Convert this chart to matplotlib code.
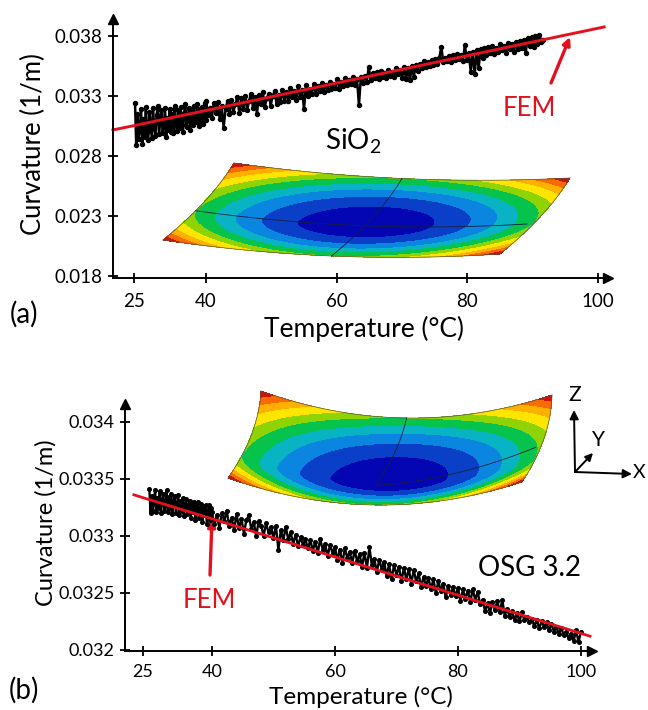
import numpy as np
import matplotlib
matplotlib.use("Agg")
import matplotlib.pyplot as plt
from matplotlib.colors import ListedColormap, BoundaryNorm

plt.rcParams['font.family'] = ['Lato', 'DejaVu Sans']
plt.rcParams['mathtext.default'] = 'regular'
plt.rcParams['mathtext.fontset'] = 'custom'
plt.rcParams['mathtext.rm'] = 'Lato'

W, H = 648, 710
RED = '#e3101e'

# ---------- data (curvature in 1e-3 1/m) ----------
temp_a = [25.2,25.45,25.7,25.95,26.2,26.45,26.7,26.95,27.2,27.45,
          27.7,27.95,28.2,28.45,28.7,28.95,29.2,29.45,29.7,29.95,
          30.2,30.45,30.7,30.95,31.2,31.45,31.7,31.95,32.2,32.45,
          32.7,32.95,33.2,33.45,33.7,33.95,34.2,34.45,34.7,34.95,
          35.2,35.45,35.7,35.95,36.2,36.45,36.7,36.95,37.2,37.45,
          37.7,37.95,38.2,38.45,38.7,38.95,39.2,39.45,39.7,39.95,
          40.0,40.3,40.6,40.9,41.2,41.5,41.8,42.1,42.4,42.7,43.0,43.3,43.6,43.9,44.2,44.5,44.8,45.1,45.4,45.7,
          46.0,46.3,46.6,46.9,47.2,47.5,47.8,48.1,48.4,48.7,49.0,49.3,49.6,49.9,50.2,50.5,50.8,51.1,51.4,51.7,
          52.0,52.3,52.6,52.9,53.2,53.5,53.8,54.1,54.4,54.7,55.0,55.3,55.6,55.9,56.2,56.5,56.8,57.1,57.4,57.7,
          58.0,58.3,58.6,58.9,59.2,59.5,59.8,60.1,60.4,60.7,61.0,61.3,61.6,61.9,62.2,62.5,62.8,63.1,63.4,63.7,
          64.0,64.3,64.6,64.9,65.2,65.5,65.8,66.1,66.4,66.7,67.0,67.3,67.6,67.9,68.2,68.5,68.8,69.1,69.4,69.7,
          70.0,70.3,70.6,70.9,71.2,71.5,71.8,72.1,72.4,72.7,73.0,73.3,73.6,73.9,74.2,74.5,74.8,75.1,75.4,75.7,
          76.0,76.3,76.6,76.9,77.2,77.5,77.8,78.1,78.4,78.7,79.0,79.3,79.6,79.9,80.2,80.5,80.8,81.1,81.4,81.7,
          82.0,82.3,82.6,82.9,83.2,83.5,83.8,84.1,84.4,84.7,85.0,85.3,85.6,85.9,86.2,86.5,86.8,87.1,87.4,87.7,
          88.0,88.3,88.6,88.9,89.2,89.5,89.8,90.1,90.4,90.7,91.0,91.3,91.6]
curv_a = [32.4,28.9,31.5,29.4,30.2,31.9,29.0,31.1,29.6,32.1,30.0,29.3,31.7,30.6,29.5,32.0,30.3,29.7,31.4,32.2,
          29.8,30.9,31.8,29.9,30.4,32.0,29.6,31.2,30.2,31.9,30.0,31.5,29.9,32.2,30.7,30.1,31.8,30.3,32.1,30.6,
          30.0,31.6,32.3,30.4,31.0,32.0,30.2,31.7,30.6,32.2,30.8,31.3,32.3,30.5,31.9,30.9,32.1,30.7,32.4,31.0,
          32.6,31.4,32.0,31.2,32.4,31.6,32.5,31.1,32.2,30.35,31.9,32.6,31.5,32.7,31.7,32.3,32.9,31.6,32.8,31.9,
          33.0,31.8,32.6,33.2,32.0,32.9,31.5,33.1,32.3,33.3,32.1,32.8,33.2,32.2,33.0,33.4,32.3,33.1,32.5,33.5,
          32.6,33.3,32.6,33.7,32.9,33.4,32.7,33.8,32.9,33.5,31.9,33.9,33.0,33.6,33.2,34.0,33.2,33.8,33.4,34.1,
          33.3,33.9,33.5,34.2,33.6,34.0,33.7,34.4,33.6,34.2,33.8,34.5,33.9,34.3,34.0,34.6,33.9,34.4,32.25,34.6,
          34.1,34.7,34.2,35.4,34.3,34.9,34.5,35.0,34.4,35.1,34.6,34.9,34.5,35.2,34.7,35.0,34.6,35.3,34.8,35.2,
          34.5,35.4,34.4,35.3,34.3,35.5,34.6,35.6,35.1,35.7,35.3,35.9,35.4,35.8,35.5,36.0,35.6,36.1,35.7,36.2,
          37.1,35.8,36.2,35.9,36.3,35.8,36.4,36.0,36.5,36.1,36.4,35.9,37.25,36.0,36.6,35.0,36.7,34.8,36.8,35.3,
          36.9,36.2,37.0,36.4,37.1,36.6,37.2,36.5,37.0,36.7,37.3,36.8,37.2,36.6,37.4,36.9,37.3,36.7,37.5,36.9,
          37.6,37.0,37.7,36.6,37.8,37.2,37.9,37.1,38.0,37.3,38.1,37.5,37.7]

temp_b = [26.4,26.65,26.9,27.15,27.4,27.65,27.9,28.15,28.4,28.65,
          28.9,29.15,29.4,29.65,29.9,30.15,30.4,30.65,30.9,31.15,
          31.4,31.65,31.9,32.15,32.4,32.65,32.9,33.15,33.4,33.65,
          33.9,34.15,34.4,34.65,34.9,35.15,35.4,35.65,35.9,36.15,
          36.4,36.65,36.9,37.15,37.4,37.65,37.9,38.15,38.4,38.65,
          38.9,39.15,39.4,39.65,39.9,
          40.0,40.4,40.8,41.2,41.6,42.0,42.4,42.8,43.2,43.6,
          44.0,44.4,44.8,45.2,45.6,46.0,46.4,46.8,47.2,47.6,
          48.0,48.4,48.8,49.2,49.6,50.0,50.4,50.8,51.2,51.6,
          52.0,52.4,52.8,53.2,53.6,54.0,54.4,54.8,55.2,55.6,
          56.0,56.4,56.8,57.2,57.6,58.0,58.4,58.8,59.2,59.6,
          60.0,60.4,60.8,61.2,61.6,62.0,62.4,62.8,63.2,63.6,
          64.0,64.4,64.8,65.2,65.6,66.0,66.4,66.8,67.2,67.6,
          68.0,68.4,68.8,69.2,69.6,70.0,70.4,70.8,71.2,71.6,
          72.0,72.4,72.8,73.2,73.6,74.0,74.4,74.8,75.2,75.6,
          76.0,76.4,76.8,77.2,77.6,78.0,78.4,78.8,79.2,79.6,
          80.0,80.4,80.8,81.2,81.6,82.0,82.4,82.8,83.2,83.6,
          84.0,84.4,84.8,85.2,85.6,86.0,86.4,86.8,87.2,87.6,
          88.0,88.4,88.8,89.2,89.6,90.0,90.4,90.8,91.2,91.6,
          92.0,92.4,92.8,93.2,93.6,94.0,94.4,94.8,95.2,95.6,
          96.0,96.4,96.8,97.2,97.6,98.0,98.4,98.8,99.2,99.6,
          100.0]
curv_b = [33.41,33.20,33.35,33.22,33.29,33.40,33.21,33.33,33.24,33.39,33.20,33.30,33.37,33.22,33.27,33.40,33.21,33.34,33.24,33.37,
          33.19,33.30,33.35,33.20,33.26,33.36,33.18,33.31,33.22,33.33,33.17,33.28,33.32,33.19,33.25,33.31,33.16,33.29,33.21,33.30,
          33.14,33.25,33.30,33.16,33.23,33.28,33.12,33.26,33.18,33.27,33.10,33.22,33.27,33.14,33.24,
          33.21,33.10,33.18,33.07,33.20,33.13,33.22,33.09,33.16,33.05,
          33.19,33.07,33.15,33.02,33.14,33.18,33.06,33.12,33.00,33.13,
          33.09,33.00,33.11,33.03,33.08,32.98,33.09,32.88,33.05,32.96,
          33.08,32.97,33.03,32.93,33.01,32.91,32.99,32.92,32.97,32.89,
          32.96,32.87,32.95,32.85,32.97,32.88,32.93,32.82,32.92,32.85,
          32.90,32.79,32.88,32.76,32.89,32.81,32.86,32.76,32.87,32.78,
          32.84,32.73,32.85,32.72,32.90,32.74,32.80,32.68,32.79,32.71,
          32.77,32.65,32.75,32.62,32.74,32.66,32.73,32.60,32.72,32.62,
          32.71,32.58,32.70,32.60,32.67,32.55,32.64,32.56,32.63,32.53,
          32.62,32.50,32.60,32.52,32.58,32.46,32.56,32.48,32.55,32.47,
          32.54,32.43,32.53,32.45,32.52,32.42,32.53,32.44,32.51,32.40,
          32.44,32.34,32.41,32.32,32.42,32.35,32.43,32.33,32.44,32.30,
          32.36,32.29,32.34,32.26,32.32,32.25,32.33,32.26,32.29,32.24,
          32.27,32.21,32.26,32.19,32.25,32.20,32.24,32.17,32.23,32.16,
          32.20,32.14,32.19,32.13,32.16,32.10,32.14,32.08,32.17,32.07,
          32.16]

fem_temp_a = [20.6, 25, 40, 100.9]
fem_curv_a = [30.17, 30.53, 31.79, 38.75]
fem_temp_b = [23.04, 25, 40, 101.46]
fem_curv_b = [33.36, 33.335, 33.15, 32.12]

xticks = [25, 40, 60, 80, 100]
yticks_a = [18, 23, 28, 33, 38]
ylabels_a = ['0.018', '0.023', '0.028', '0.033', '0.038']
yticks_b = [32.0, 32.5, 33.0, 33.5, 34.0]
ylabels_b = ['0.032', '0.0325', '0.033', '0.0335', '0.034']

band_levels = [0, .16, .37, .58, .78, 1.0, 1.2, 1.42, 1.62, 1.82, 2.5]
band_colors = ['#0406b4', '#0a3fc8', '#0a86e0', '#08b4c4', '#06c34e',
               '#8fd305', '#fde500', '#fdb000', '#f96a00', '#c8140a']

fig = plt.figure(figsize=(W / 100, H / 100), dpi=100)

def px_axes(left, right, top, bottom):
    ax = fig.add_axes([left / W, 1 - bottom / H, (right - left) / W, (bottom - top) / H])
    ax.patch.set_alpha(0)
    return ax

def make_scale(px_low, px_high):
    def fwd(t):
        t = np.asarray(t, dtype=float)
        return np.where(t < 40, (t - 40) * px_low, (t - 40) * px_high)
    def inv(p):
        p = np.asarray(p, dtype=float)
        return np.where(p < 0, p / px_low + 40, p / px_high + 40)
    return fwd, inv

def style(ax, ylabels, yticks, fs_tick, pad_y, pad_x):
    for s in ('top', 'right'):
        ax.spines[s].set_visible(False)
    for s in ('left', 'bottom'):
        ax.spines[s].set_linewidth(1.4)
    ax.set_xticks(xticks)
    ax.set_xticklabels([str(v) for v in xticks], fontsize=fs_tick)
    ax.set_yticks(yticks)
    ax.set_yticklabels(ylabels, fontsize=fs_tick)
    ax.tick_params(axis='x', direction='inout', length=7, width=1.3, pad=pad_x)
    ax.tick_params(axis='y', direction='inout', length=7, width=1.3, pad=pad_y)
    ax.minorticks_off()
    ax.plot(1, 0, '>k', ms=6.5, transform=ax.transAxes, clip_on=False)
    ax.plot(0, 1, '^k', ms=6.5, transform=ax.transAxes, clip_on=False)

# ---------- overlay in pixel coordinates for insets and annotations ----------
ov = fig.add_axes([0, 0, 1, 1])
ov.set_xlim(0, W)
ov.set_ylim(H, 0)
ov.axis('off')

def surface(corners, sag_top, sag_bottom, bulge, v0, lines):
    tl, tr, br, bl = [np.array(c, float) for c in corners]
    u, v = np.meshgrid(np.linspace(0, 1, 260), np.linspace(0, 1, 160))
    def mp(u, v):
        x = (1-u)*(1-v)*tl[0] + u*(1-v)*tr[0] + u*v*br[0] + (1-u)*v*bl[0]
        y = (1-u)*(1-v)*tl[1] + u*(1-v)*tr[1] + u*v*br[1] + (1-u)*v*bl[1]
        x = x + bulge * 4 * v * (1 - v)
        y = y + (sag_top * (1 - v) + sag_bottom * v) * 4 * u * (1 - u)
        return x, y
    X, Y = mp(u, v)
    dv = np.where(v < v0, (v - v0) / v0, (v - v0) / (1 - v0))
    F = ((u - .5) / .5) ** 2 + dv ** 2
    ov.contourf(X, Y, F, levels=band_levels, cmap=ListedColormap(band_colors),
                norm=BoundaryNorm(band_levels, len(band_colors)))
    t = np.linspace(0, 1, 80)
    for uu, vv in [(t, 0 * t), (t, 0 * t + 1), (0 * t, t), (0 * t + 1, t)]:
        ov.plot(*mp(uu, vv), color='#555544', lw=0.5)
    for (ua, va), (ub, vb) in lines:
        ov.plot(*mp(ua + (ub - ua) * t, va + (vb - va) * t), color='#14203a', lw=0.6)

surface([(234, 163), (570, 178), (500, 254), (163, 240)], 8, 9, 6, 0.6,
        [((0.5, 0), (0.5, 1)), ((0.0, .62), (0.98, .6))])
surface([(261, 391), (552, 395), (522, 482), (228, 478)], 25, 25, 7, 0.74,
        [((0.5, 0), (0.46, .78)), ((0.46, .78), (.98, .58))])

# ---------- panel (a) ----------
ax1 = px_axes(113, 608, 19, 278)
f, i = make_scale(72 / 15, 6.55)
ax1.set_xscale('function', functions=(f, i))
ax1.set_xlim(20.6, 96.3 + (608 - 574) / 6.55)
ax1.set_ylim(17.83, 17.83 + 259 / 12)
ax1.plot(temp_a, curv_a, '-o', color='k', lw=1.8, ms=2.9, solid_joinstyle='round')
ax1.plot(fem_temp_a, fem_curv_a, color=RED, lw=2.1, clip_on=False)
style(ax1, ylabels_a, yticks_a, 13.5, 4, 7)
ax1.set_ylabel('Curvature (1/m)', fontsize=18.5)
ax1.yaxis.set_label_coords((46 - 113) / 495, (278 - 144) / 259)
ax1.set_xlabel('Temperature (°C)', fontsize=19)
ax1.xaxis.set_label_coords((364 - 113) / 495, -(316 - 278) / 259)

# ---------- panel (b) ----------
ax2 = px_axes(125, 592, 404, 651)
f, i = make_scale(69 / 15, 6.15)
ax2.set_xscale('function', functions=(f, i))
ax2.set_xlim(21.1, 100 + (592 - 581) / 6.15)
ax2.set_ylim(31.99, 31.99 + 247 / 114)
ax2.plot(temp_b, curv_b, '-o', color='k', lw=1.7, ms=2.6, solid_joinstyle='round')
ax2.plot(fem_temp_b, fem_curv_b, color=RED, lw=2.0, clip_on=False)
style(ax2, ylabels_b, yticks_b, 13, 4, 6)
ax2.set_ylabel('Curvature (1/m)', fontsize=17)
ax2.yaxis.set_label_coords((57 - 125) / 467, (651 - 523) / 247)
ax2.set_xlabel('Temperature (°C)', fontsize=17.5)
ax2.xaxis.set_label_coords((361 - 125) / 467, -(686 - 651) / 247)

# ---------- annotations ----------
def note(x, y, s, fs, color='k'):
    ov.text(x, y, s, fontsize=fs, color=color, ha='center', va='center')

def arrow(x0, y0, x1, y1, color, lw, ms):
    ov.annotate('', xy=(x1, y1), xytext=(x0, y0),
                arrowprops=dict(arrowstyle='-|>', color=color, lw=lw, mutation_scale=ms,
                                shrinkA=0, shrinkB=0))

note(24, 314, '(a)', 20)
note(24, 690, '(b)', 20)
note(353, 141, 'SiO$_2$', 20)
note(530, 568, 'OSG 3.2', 20)
note(529, 109, 'FEM', 18.5, RED)
note(209, 600, 'FEM', 18.5, RED)
arrow(551, 83, 570, 37, RED, 2.4, 11)
arrow(210, 575, 212, 519, RED, 2.4, 11)
arrow(575, 472, 574, 410, 'k', 1.4, 13)
arrow(575, 472, 632, 474, 'k', 1.4, 13)
arrow(575, 472, 593, 453, 'k', 1.4, 11)
note(575, 395, 'Z', 15)
note(598, 440, 'Y', 15)
note(639, 473, 'X', 14)

fig.savefig('out.png', dpi=100)
